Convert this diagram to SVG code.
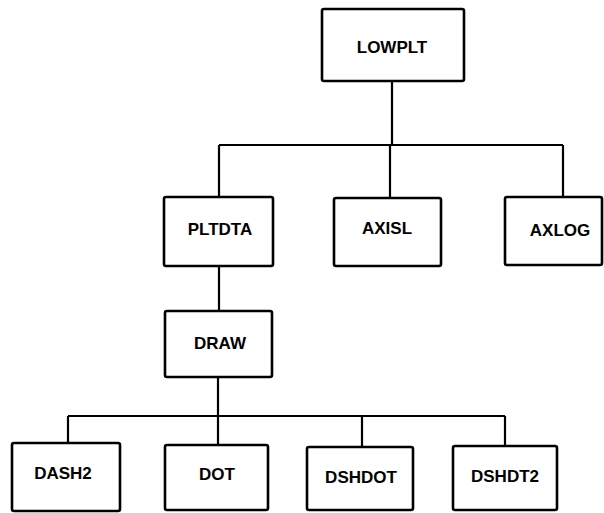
<svg xmlns="http://www.w3.org/2000/svg" width="604" height="513" viewBox="0 0 604 513">
<style>
.box{fill:#fff;stroke:#000;stroke-width:2.6;stroke-linejoin:round}
.ln{fill:none;stroke:#000;stroke-width:2.2}
text{font-family:"Liberation Sans",Arial,sans-serif;font-weight:bold;font-size:17px;text-anchor:middle;dominant-baseline:central;fill:#000}
</style>
<rect width="604" height="513" fill="#fff"/>
<g id="connectors">
<path class="ln" d="M392 81V145M219 145H563M219 145V197M390 145V198M563 145V197"/>
<path class="ln" d="M219 266V311"/>
<path class="ln" d="M218 377V445M68 416H505M68 416V443M362 416V447M505 416V446"/>
</g>
<g id="LOWPLT"><rect class="box" x="322" y="9" width="142" height="72" rx="2"/><text x="392" y="47">LOWPLT</text></g>
<g id="PLTDTA"><rect class="box" x="164" y="197" width="109" height="69" rx="2"/><text x="220" y="229">PLTDTA</text></g>
<g id="AXISL"><rect class="box" x="334" y="198" width="107" height="68" rx="2"/><text x="387" y="228">AXISL</text></g>
<g id="AXLOG"><rect class="box" x="505" y="197" width="97" height="68" rx="2"/><text x="560" y="230">AXLOG</text></g>
<g id="DRAW"><rect class="box" x="165" y="311" width="107" height="66" rx="2"/><text x="220" y="343">DRAW</text></g>
<g id="DASH2"><rect class="box" x="12" y="443" width="108" height="68" rx="2"/><text x="63" y="473">DASH2</text></g>
<g id="DOT"><rect class="box" x="165" y="445" width="103" height="65" rx="2"/><text x="217" y="474">DOT</text></g>
<g id="DSHDOT"><rect class="box" x="307" y="447" width="106" height="63" rx="2"/><text x="361" y="477">DSHDOT</text></g>
<g id="DSHDT2"><rect class="box" x="453" y="446" width="104" height="64" rx="2"/><text x="505" y="476">DSHDT2</text></g>
</svg>
